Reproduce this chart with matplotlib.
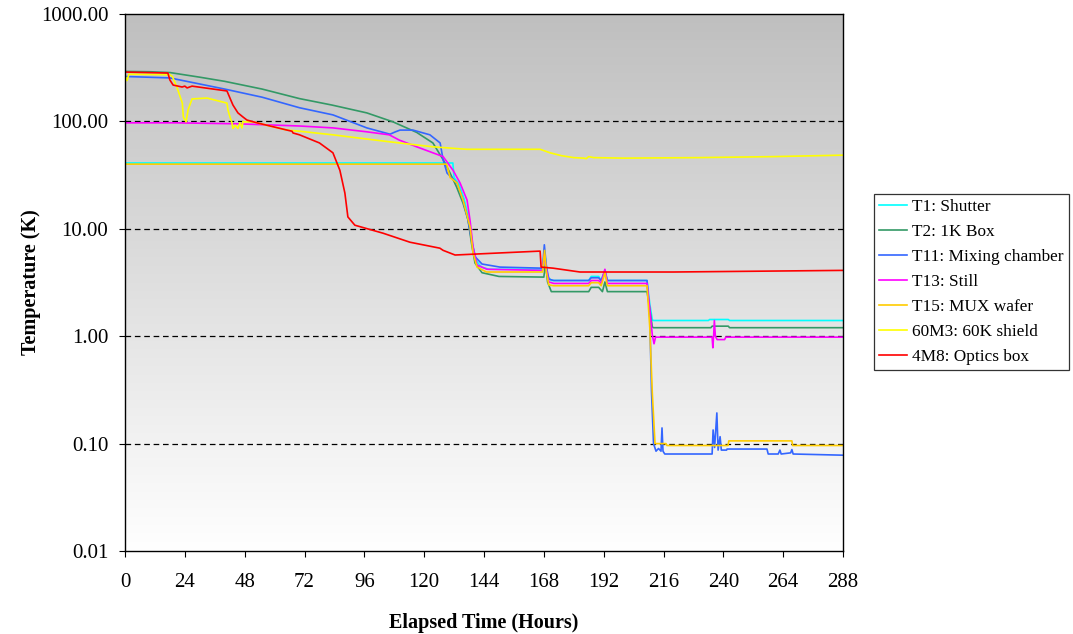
import numpy as np
import matplotlib
matplotlib.use("Agg")
import matplotlib.pyplot as plt

plt.rcParams['font.family'] = ['Liberation Serif', 'DejaVu Serif']

# ---- datos (horas, K) ----
t1_h = [0, 131.5, 132, 134, 136, 138, 139.5, 141, 143, 146, 167.5, 168.2, 168.8, 169.5, 171,
        186, 187, 190, 191, 192.5, 193.5, 209.4, 210.5, 211.5, 212, 234, 234.5, 242, 242.5, 288]
t1_k = [41, 41, 30, 26, 19, 12, 7, 5, 4.4, 4.2, 4.2, 6.0, 5.0, 3.6, 3.3,
        3.3, 3.6, 3.6, 3.3, 4.0, 3.3, 3.3, 2.0, 1.42, 1.40, 1.40, 1.43, 1.43, 1.40, 1.40]

t2_h = [0, 10, 18, 30, 40, 55, 70, 83, 97, 107.5, 117, 123.5, 127.6, 130.4, 133, 135.6, 137.6,
        139.2, 140.4, 143.2, 150, 168, 168.7, 169.5, 171, 186, 187, 190, 191.5, 192.5, 193.5,
        209.4, 210.5, 211.5, 212, 235, 235.5, 242, 242.5, 288]
t2_k = [292, 290, 285, 258, 236, 200, 163, 142, 120, 99, 79, 63, 44, 33, 24.5, 17.3, 12.1,
        6.8, 4.8, 3.9, 3.6, 3.55, 4.8, 3.2, 2.6, 2.6, 2.85, 2.85, 2.6, 3.2, 2.6,
        2.6, 1.8, 1.22, 1.20, 1.20, 1.24, 1.24, 1.20, 1.20]

t11_h = [0, 18, 40, 55, 70, 83.4, 97, 106.3, 108.5, 110.3, 115.5, 122.3, 126.4, 127.6, 129.2,
         133.2, 135.6, 137.6, 139.2, 140.4, 143.2, 150.4, 167.5, 168.2, 169, 170, 172, 186, 187,
         190, 191, 192.5, 193.5, 209.4, 210.5, 211.2, 212, 213, 214, 215, 215.4, 215.8, 216.5,
         235.5, 235.9, 236.5, 237.4, 237.9, 238.7, 239.2, 241.3, 241.5, 257.5, 258, 262, 262.7,
         263.2, 267, 267.5, 268, 288]
t11_k = [262, 254, 200, 168, 134, 115, 87, 76, 80, 83, 83, 75, 63, 44, 33,
         26.7, 18.5, 12.1, 7.4, 5.5, 4.7, 4.4, 4.3, 7.1, 4.5, 3.4, 3.3, 3.3, 3.5,
         3.5, 3.3, 4.1, 3.3, 3.3, 1.5, 0.3, 0.1, 0.085, 0.09, 0.085, 0.14, 0.085, 0.08,
         0.08, 0.134, 0.092, 0.193, 0.087, 0.116, 0.087, 0.087, 0.089, 0.089, 0.08, 0.08, 0.087,
         0.08, 0.082, 0.088, 0.08, 0.078]

t13_h = [0, 20, 45, 70, 83.4, 97, 106, 110, 117, 123.5, 127.6, 131.6, 134.4, 137.2, 138.4,
         139.6, 141.2, 145.2, 167.5, 168.2, 169, 170, 172, 186, 187, 190, 191, 192.5, 193.5,
         209.4, 210.5, 211.5, 212.2, 212.8, 235.5, 235.8, 236.1, 236.4, 236.8, 237.5, 240.5,
         241, 288]
t13_k = [97, 97, 95, 90.6, 87, 80, 75, 67, 58, 51, 47, 35, 26.7, 18.5, 12,
         6.8, 4.6, 4.2, 4.1, 5.8, 4.2, 3.2, 3.1, 3.1, 3.3, 3.3, 3.1, 4.2, 3.1,
         3.1, 1.8, 1.03, 0.85, 0.98, 0.98, 0.78, 1.0, 1.4, 1.0, 0.93, 0.93,
         0.98, 0.98]

t15_h = [0, 129, 130.4, 133.2, 135.6, 138.4, 139.6, 141.2, 145, 167.5, 168.3, 169, 170, 172,
         186, 187, 190, 191, 192.5, 193.5, 209.4, 210.5, 211.5, 212.6, 217, 217.4, 241.9,
         242.2, 267.5, 267.8, 288]
t15_k = [40, 40, 30, 26.7, 18.5, 10.4, 6, 4.4, 3.96, 3.96, 6.3, 4.0, 3.0, 2.95,
         2.95, 3.15, 3.15, 2.95, 3.9, 2.95, 2.95, 1.2, 0.3, 0.1, 0.1, 0.096, 0.096,
         0.106, 0.106, 0.096, 0.096]

m603_h = [0, 0.8, 1.6, 18, 19, 20.8, 23, 23.4, 24.5, 25.3, 26.9, 32.9, 40.9, 41.3, 42.1,
          42.9, 43.3, 44.2, 45.3, 46.1, 46.9, 47.3, 48, 51.3, 65, 70, 83.4, 97, 110, 123.5, 137,
          166.5, 170.5, 175, 180, 184, 185, 186, 188, 200, 230, 260, 288]
m603_k = [265, 240, 275, 272, 262, 209, 148, 110, 99, 128, 162, 165, 148, 128, 110,
          97, 86, 92, 86, 97, 87, 100, 99, 99, 83, 81, 75, 68.5, 63, 58, 55,
          55, 51, 48, 46, 45.5, 45, 47, 46, 45.5, 46, 47, 48.5]

m48_h = [0, 17.2, 18, 19.3, 22.9, 24, 24.9, 26.9, 40.9, 42.1, 43.3, 45.3, 47.3, 48.9, 52.9,
         65, 67, 67.4, 70, 78, 83.4, 86.2, 88.2, 89.4, 92.2, 103.5, 114.3, 126.3, 127.6,
         132.4, 150.4, 166.5, 166.9, 171.7, 182.5, 220, 288]
m48_k = [288, 282, 243, 218, 209, 213, 205, 213, 192, 165, 142, 120, 110, 103, 97,
         83, 81, 78, 75, 63, 51, 35, 21.5, 12.9, 10.8, 9.1, 7.5, 6.6, 6.3,
         5.7, 5.96, 6.2, 4.4, 4.3, 3.96, 3.96, 4.1]

series = [
    ("T1: Shutter", t1_h, t1_k, "#00FFFF"),
    ("T2: 1K Box", t2_h, t2_k, "#339966"),
    ("T11: Mixing chamber", t11_h, t11_k, "#3366FF"),
    ("T13: Still", t13_h, t13_k, "#FF00FF"),
    ("T15: MUX wafer", t15_h, t15_k, "#FFCC00"),
    ("60M3: 60K shield", m603_h, m603_k, "#FFFF00"),
    ("4M8: Optics box", m48_h, m48_k, "#FF0000"),
]

xticks = list(range(0, 289, 24))
yticks = [0.01, 0.1, 1, 10, 100, 1000]
grid_y = [0.1, 1, 10, 100]

fig = plt.figure(figsize=(10.73, 6.34), dpi=100)
ax = fig.add_axes([125 / 1073, 83 / 634, 718 / 1073, 537 / 634])

# fondo degradado gris -> blanco
grad = np.linspace(0, 1, 256).reshape(-1, 1)
ax.imshow(grad, cmap=matplotlib.colors.LinearSegmentedColormap.from_list(
    "g", ["#ffffff", "#bfbfbf"]), extent=[0, 1, 0, 1], transform=ax.transAxes,
    aspect="auto", origin="lower", zorder=0)

for yv in grid_y:
    ax.axhline(yv, color="black", lw=0.9, ls=(0, (4.5, 3)), zorder=1)

for nombre, h, k, c in series:
    ax.plot(h, k, color=c, lw=1.2, label=nombre, zorder=2)

ax.set_yscale("log")
ax.set_xlim(0, 288)
ax.set_ylim(0.01, 1000)
ax.set_xticks(xticks)
ax.set_yticks(yticks)
ax.set_yticklabels([f"{v:.2f}" for v in yticks])
ax.minorticks_off()
ax.tick_params(axis="both", labelsize=15, direction="out", length=4, width=0.8)
ax.tick_params(axis="y", pad=8)
ax.tick_params(axis="x", pad=12)
for s in ax.spines.values():
    s.set_color("black")
    s.set_linewidth(1)

ax.set_xlabel("Elapsed Time (Hours)", fontsize=14.5, fontweight="bold", labelpad=15)
ax.set_ylabel("Temperature (K)", fontsize=14.5, fontweight="bold", labelpad=0)

leg = ax.legend(loc="center left", bbox_to_anchor=(874 / 1073, 1 - 282 / 634),
                bbox_transform=fig.transFigure, fontsize=12.4, frameon=True,
                fancybox=False, edgecolor="black", handlelength=1.6,
                handletextpad=0.3, labelspacing=0.52, borderpad=0.3,
                borderaxespad=0)
leg.get_frame().set_linewidth(0.9)

fig.savefig("out.png", dpi=100)
